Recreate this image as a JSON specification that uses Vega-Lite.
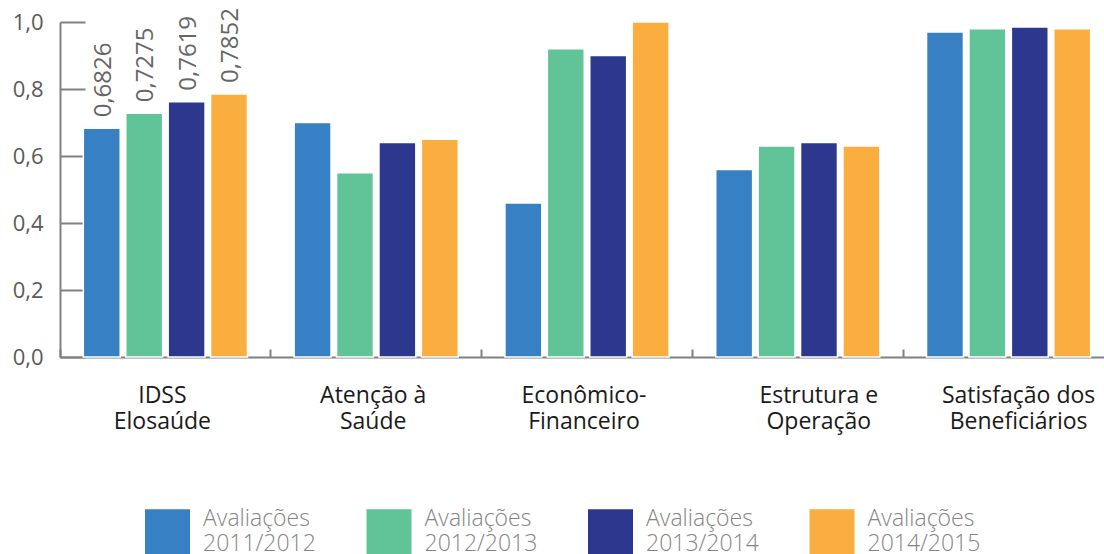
{
  "$schema": "https://vega.github.io/schema/vega-lite/v6.json",
  "autosize": "none",
  "padding": {"left": 60, "top": 22, "right": 0, "bottom": 197},
  "width": 1044,
  "height": 335,
  "background": "white",
  "config": {"view": {"stroke": null}, "font": "Open Sans"},
  "data": {
    "values": [
      {"categoria": "IDSS Elosaúde", "serie": "2011/2012", "valor": 0.6826},
      {"categoria": "IDSS Elosaúde", "serie": "2012/2013", "valor": 0.7275},
      {"categoria": "IDSS Elosaúde", "serie": "2013/2014", "valor": 0.7619},
      {"categoria": "IDSS Elosaúde", "serie": "2014/2015", "valor": 0.7852},
      {"categoria": "Atenção à Saúde", "serie": "2011/2012", "valor": 0.70},
      {"categoria": "Atenção à Saúde", "serie": "2012/2013", "valor": 0.55},
      {"categoria": "Atenção à Saúde", "serie": "2013/2014", "valor": 0.64},
      {"categoria": "Atenção à Saúde", "serie": "2014/2015", "valor": 0.65},
      {"categoria": "Econômico-Financeiro", "serie": "2011/2012", "valor": 0.46},
      {"categoria": "Econômico-Financeiro", "serie": "2012/2013", "valor": 0.92},
      {"categoria": "Econômico-Financeiro", "serie": "2013/2014", "valor": 0.90},
      {"categoria": "Econômico-Financeiro", "serie": "2014/2015", "valor": 1.0},
      {"categoria": "Estrutura e Operação", "serie": "2011/2012", "valor": 0.56},
      {"categoria": "Estrutura e Operação", "serie": "2012/2013", "valor": 0.63},
      {"categoria": "Estrutura e Operação", "serie": "2013/2014", "valor": 0.64},
      {"categoria": "Estrutura e Operação", "serie": "2014/2015", "valor": 0.63},
      {"categoria": "Satisfação dos Beneficiários", "serie": "2011/2012", "valor": 0.97},
      {"categoria": "Satisfação dos Beneficiários", "serie": "2012/2013", "valor": 0.98},
      {"categoria": "Satisfação dos Beneficiários", "serie": "2013/2014", "valor": 0.985},
      {"categoria": "Satisfação dos Beneficiários", "serie": "2014/2015", "valor": 0.98}
    ]
  },
  "encoding": {
    "x": {
      "field": "categoria",
      "type": "nominal",
      "sort": null,
      "title": null,
      "scale": {"range": [0, 1054], "paddingInner": 0, "paddingOuter": 0},
      "axis": {
        "bandPosition": 0,
        "domainColor": "#808080",
        "domainWidth": 2,
        "tickColor": "#808080",
        "tickWidth": 2,
        "tickSize": -8,
        "labelPadding": 35,
        "labelAngle": 0,
        "labelOffset": {
          "condition": [
            {"test": "datum.value == 'Estrutura e Operação'", "value": 21},
            {"test": "datum.value == 'Satisfação dos Beneficiários'", "value": 10}
          ],
          "value": -3
        },
        "labelFont": "Open Sans",
        "labelFontSize": 23,
        "labelColor": "#1a1a1a",
        "labelLineHeight": 26,
        "labelBaseline": "top",
        "labelLimit": 300,
        "labelExpr": "datum.label == 'Econômico-Financeiro' ? ['Econômico-', 'Financeiro'] : [slice(datum.label, 0, lastindexof(datum.label, ' ')), slice(datum.label, lastindexof(datum.label, ' ') + 1)]"
      }
    },
    "xOffset": {
      "field": "serie",
      "type": "nominal",
      "scale": {"paddingInner": 0.13, "paddingOuter": 0.55}
    },
    "y": {
      "field": "valor",
      "type": "quantitative",
      "title": null,
      "scale": {"domain": [0, 1], "nice": false},
      "axis": {
        "values": [0, 0.2, 0.4, 0.6, 0.8, 1.0],
        "grid": false,
        "domainColor": "#808080",
        "domainWidth": 2,
        "tickColor": "#808080",
        "tickWidth": 2,
        "tickSize": -25,
        "labelPadding": 42,
        "labelFont": "Open Sans",
        "labelFontSize": 22,
        "labelColor": "#5a5a5a",
        "labelExpr": "replace(format(datum.value, '.1f'), '.', ',')"
      }
    }
  },
  "layer": [
    {
      "mark": {"type": "bar", "stroke": "white", "strokeWidth": 1.5},
      "encoding": {
        "color": {
          "field": "serie",
          "type": "nominal",
          "scale": {
            "domain": ["2011/2012", "2012/2013", "2013/2014", "2014/2015"],
            "range": ["#3780c3", "#61c398", "#2c378e", "#fbae40"]
          },
          "legend": {
            "orient": "none",
            "legendX": 85,
            "legendY": 487,
            "direction": "horizontal",
            "columns": 4,
            "padding": 0,
            "title": null,
            "symbolType": "square",
            "symbolSize": 2025,
            "symbolStrokeWidth": 0,
            "symbolOpacity": 1,
            "labelOffset": 13,
            "columnPadding": 50.5,
            "labelFont": "Open Sans",
            "labelFontWeight": 300,
            "labelFontSize": 23,
            "labelColor": "#858585",
            "labelLineHeight": 21,
            "labelBaseline": "line-bottom",
            "labelLimit": 300,
            "labelExpr": "['Avaliações', datum.label]"
          }
        }
      }
    },
    {
      "transform": [
        {"filter": "datum.categoria == 'IDSS Elosaúde'"},
        {"calculate": "replace(format(datum.valor, '.4f'), '.', ',')", "as": "rotulo"}
      ],
      "mark": {
        "type": "text",
        "angle": 270,
        "align": "left",
        "baseline": "middle",
        "dx": 11,
        "dy": 2,
        "font": "Open Sans",
        "fontSize": 24,
        "color": "#666666"
      },
      "encoding": {
        "text": {"field": "rotulo", "type": "nominal"}
      }
    }
  ]
}
